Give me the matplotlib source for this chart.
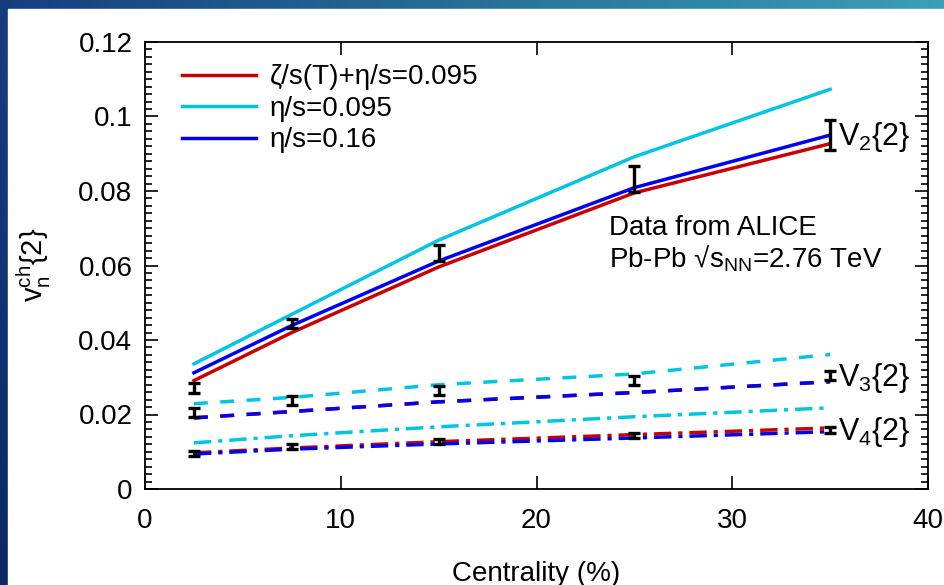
import numpy as np
import matplotlib
matplotlib.use("Agg")
import matplotlib.pyplot as plt
from matplotlib.ticker import MultipleLocator

plt.rcParams['font.family'] = ['Liberation Sans', 'DejaVu Sans']
plt.rcParams['mathtext.fontset'] = 'custom'
plt.rcParams['mathtext.rm'] = 'Liberation Sans'
plt.rcParams['mathtext.it'] = 'Liberation Sans'

# ---- data ----
centrality = [2.5, 7.5, 15, 25, 35]

# ALICE data
v2_data = [0.0272, 0.0445, 0.0634, 0.0832, 0.0950]
v2_err = [0.0013, 0.0012, 0.0022, 0.0035, 0.0040]
v3_data = [0.0205, 0.0238, 0.0265, 0.0292, 0.0304]
v3_err = [0.0012, 0.0012, 0.0012, 0.0012, 0.0012]
v4_data = [0.0095, 0.0115, 0.0128, 0.0143, 0.0159]
v4_err = [0.0007, 0.0007, 0.0007, 0.0007, 0.0008]

# model curves
v2_bulk = [0.0291, 0.0420, 0.0596, 0.0795, 0.0927]
v2_eta095 = [0.0336, 0.0469, 0.0668, 0.0892, 0.1073]
v2_eta16 = [0.0312, 0.0439, 0.0612, 0.0809, 0.0950]

v3_bulk = [0.0191, 0.0208, 0.0234, 0.0259, 0.0288]
v3_eta095 = [0.0229, 0.0246, 0.0280, 0.0309, 0.0361]
v3_eta16 = [0.0191, 0.0208, 0.0234, 0.0259, 0.0288]

v4_bulk = [0.0097, 0.0110, 0.0127, 0.0146, 0.0164]
v4_eta095 = [0.0124, 0.0143, 0.0167, 0.0194, 0.0218]
v4_eta16 = [0.0094, 0.0107, 0.0121, 0.0137, 0.0154]

labels = ["ζ/s(T)+η/s=0.095", "η/s=0.095", "η/s=0.16"]
colors = ["#c80000", "#00c4e4", "#0000f0"]

W, H = 945, 585
fig = plt.figure(figsize=(W / 100, H / 100), dpi=100)

# background (slide frame)
bg = fig.add_axes([0, 0, 1, 1], zorder=-10)
bg.set_axis_off()
nx, ny = 200, 100
gx = np.linspace(0, 1, nx)[None, :, None]
gy = np.linspace(0, 1, ny)[:, None, None]
c_tl = np.array([22, 62, 125]) / 255
c_tr = np.array([58, 160, 180]) / 255
c_bl = np.array([10, 42, 100]) / 255
img = c_tl + (c_tr - c_tl) * gx + (c_bl - c_tl) * gy * (1 - gx)
bg.imshow(np.clip(img, 0, 1), extent=[0, 1, 0, 1], aspect='auto', origin='upper')
bg.add_patch(plt.Rectangle((8 / W, 0), 1, 1 - 9 / H, color='white', transform=bg.transAxes))
bg.set_xlim(0, 1)
bg.set_ylim(0, 1)

ax = fig.add_axes([145 / W, 1 - 489 / H, (928 - 145) / W, (489 - 42) / H])

lw = 2.5
model_sets = [
    (v2_bulk, v2_eta095, v2_eta16, '-'),
    (v3_bulk, v3_eta095, v3_eta16, (0, (4, 3.6))),
    (v4_bulk, v4_eta095, v4_eta16, (0, (5, 2, 1.2, 2))),
]
for bulk, e095, e16, ls in model_sets:
    for vals, col, lab in zip([bulk, e095, e16], colors, labels):
        ax.plot(centrality, vals, color=col, lw=lw, ls=ls,
                label=lab if ls == '-' else None)

for d, e in [(v2_data, v2_err), (v3_data, v3_err), (v4_data, v4_err)]:
    ax.errorbar(centrality, d, yerr=e, fmt='none', ecolor='black',
                elinewidth=2.4, capsize=4, capthick=2.4, zorder=5)

ax.set_xlim(0, 40)
ax.set_ylim(0, 0.12)
ax.xaxis.set_major_locator(MultipleLocator(10))
ax.yaxis.set_minor_locator(MultipleLocator(0.002))
ax.set_yticks([0, 0.02, 0.04, 0.06, 0.08, 0.1, 0.12])
ax.set_yticklabels(['0', '0.02', '0.04', '0.06', '0.08', '0.1', '0.12'])
ax.tick_params(which='both', direction='in', top=True, right=True,
               labelsize=20, width=1.2)
ax.tick_params(which='major', length=9.5)
ax.tick_params(which='minor', length=5)
ax.tick_params(axis='x', pad=14)
ax.tick_params(axis='y', pad=9)
for s in ax.spines.values():
    s.set_linewidth(1.3)

ax.set_xlabel("Centrality (%)", fontsize=20, labelpad=19)
fig.text(34 / W, 1 - 265 / H, r"$\mathregular{v_n^{ch}}$" + "{2}", rotation=90,
         fontsize=21, ha='center', va='center')

leg = ax.legend(loc='upper left', frameon=False, fontsize=20, handlelength=2.66,
                handletextpad=0.5, labelspacing=0.2, borderaxespad=0,
                bbox_to_anchor=(0.033, 0.975))

ax.text(0.593, 0.612, "Data from ALICE\nPb-Pb √s$_{\\mathregular{NN}}$=2.76 TeV",
        transform=ax.transAxes, fontsize=20, va='top', ha='left', linespacing=1.1)

for txt, yv in [("V$_2${2}", 0.0945), ("V$_3${2}", 0.0299), ("V$_4${2}", 0.0153)]:
    ax.text(35.4, yv, txt, fontsize=22, va='center', ha='left')

fig.savefig("out.png", dpi=100)
